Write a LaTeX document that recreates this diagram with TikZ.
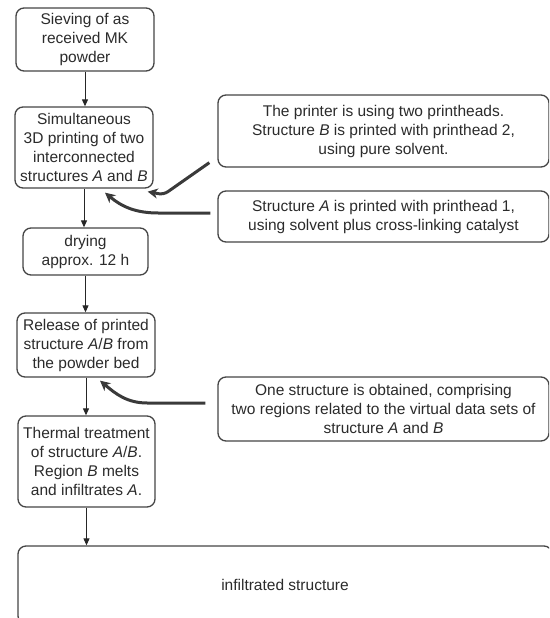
\documentclass[tikz,border=0pt]{standalone}
\usepackage{fontspec}
\setmainfont{Liberation Sans}
\definecolor{boxgray}{HTML}{454545}
\definecolor{callgray}{HTML}{3A3A3A}
\definecolor{textgray}{HTML}{2B2B2B}
\usepackage{tikz}
\usetikzlibrary{positioning, calc, arrows.meta}
\tikzset{
	stepnode/.style={
			rectangle,
			rounded corners=8pt,
			draw=boxgray,
			line width=1.3pt,
			fill=white,
			text=textgray,
			align=center,
			inner sep=0pt,
			font=\fontsize{15.5}{19}\selectfont
		},
	notenode/.style={
			stepnode,
			minimum width=331pt
		},
	flowarrow/.style={
			draw=black!85,
			line width=1pt,
			-{Triangle[length=7pt,width=6pt]}
		},
	callout/.style={
			draw=callgray,
			line width=3pt,
			-{Stealth[length=10pt,width=10pt,inset=3pt]}
		}
}
\begin{document}
\begin{tikzpicture}[x=1pt,y=-1pt]
\useasboundingbox (0,0) rectangle (549,618);
\clip (0,0) rectangle (549,618);

% process steps
\node[stepnode, minimum width=138pt, minimum height=63pt] (sieve) at (85,39.5)
	{Sieving of as\\received MK\\powder};
\node[stepnode, minimum width=138pt, minimum height=81pt] (print) at (84,147.5)
	{Simultaneous\\3D printing of two\\interconnected\\structures \textit{A} and \textit{B}};
\node[stepnode, minimum width=125pt, minimum height=47pt] (dry) at (85.5,251.5)
	{drying\\approx. 12 h};
\node[stepnode, minimum width=138pt, minimum height=64pt] (release) at (86,345)
	{Release of printed\\structure \textit{A}/\textit{B} from\\the powder bed};
\node[stepnode, minimum width=137pt, minimum height=91pt] (thermal) at (86.5,461.5)
	{Thermal treatment\\of structure \textit{A}/\textit{B}.\\Region \textit{B} melts\\and infiltrates \textit{A}.};
\node[stepnode, minimum width=534pt, minimum height=78pt] (result) at (285,585)
	{infiltrated structure};

% notes
\node[notenode, minimum height=72pt] (heads) at (383.5,131)
	{The printer is using two printheads.\\Structure \textit{B} is printed with printhead 2,\\using pure solvent.};
\node[notenode, minimum height=51pt] (catalyst) at (383.5,216.5)
	{Structure \textit{A} is printed with printhead 1,\\using solvent plus cross-linking catalyst};
\node[notenode, minimum height=64pt] (regions) at (383.5,409)
	{One structure is obtained, comprising\\two regions related to the virtual data sets of\\structure \textit{A} and \textit{B}};

\draw[flowarrow] (sieve.south) -- (sieve.south |- print.north);
\draw[flowarrow] (print.south) -- (print.south |- dry.north);
\draw[flowarrow] (dry.south) -- (dry.south |- release.north);
\draw[flowarrow] (release.south) -- (release.south |- thermal.north);
\draw[flowarrow] (thermal.south) -- (thermal.south |- result.north);

\draw[callout, rounded corners=5pt] ($(heads.south west)+(-8,-5)$) -- ($(print.south east)+(10,6)$) -- ($(print.south east)+(-6,3)$);
\draw[callout] ($(catalyst.west)+(-7,-3.5)$) -- ++(-52,0) to[out=180,in=-40] ($(print.south)+(21,4)$);
\draw[callout] ($(regions.west)+(-12,-6)$) -- ++(-58,0) to[out=180,in=-40] ($(release.south)+(14,3)$);

\end{tikzpicture}
\end{document}
